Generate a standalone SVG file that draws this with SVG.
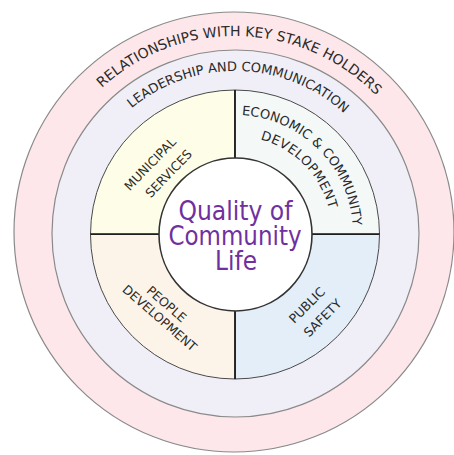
<svg xmlns="http://www.w3.org/2000/svg" width="454" height="455" viewBox="0 0 454 455">
  <defs>
    <style>
      .ring-edge { stroke: #8a8a8a; stroke-width: 1.2; }
      .quad { stroke: #4a4a4a; stroke-width: 1; }
      .label { font-family: "DejaVu Sans", "Liberation Sans", sans-serif; fill: #2a2a2a; }
      .ring-label { font-size: 14px; }
      .quad-label { font-size: 12.5px; }
      .arc-label { font-size: 13px; }
      .core-label { font-family: "DejaVu Sans", "Liberation Sans", sans-serif; font-size: 26px; fill: #7030a0; text-anchor: middle; }
      .divider { stroke: #111; stroke-width: 1.6; fill: none; }
    </style>
    <!-- baselines for the curved labels, all sharing the diagram centre -->
    <path id="arc-outer" d="M 38,233 A 197,197 0 0 1 432,233" fill="none"/>
    <path id="arc-middle" d="M 73,233 A 162,162 0 0 1 397,233" fill="none"/>
    <path id="arc-econ-1" d="M 241.8,115.2 A 118,118 0 0 1 353,233" fill="none"/>
    <path id="arc-econ-2" d="M 260.3,139.3 A 97,97 0 0 1 332,233" fill="none"/>
  </defs>

  <rect width="454" height="455" fill="#ffffff"/>

  <!-- outer ring -->
  <g id="stakeholders">
    <circle cx="234" cy="232" r="220" fill="#fde7ea" class="ring-edge"/>
    <text class="label ring-label"><textPath href="#arc-outer" startOffset="314.6" text-anchor="middle">RELATIONSHIPS WITH KEY STAKE HOLDERS</textPath></text>
  </g>

  <!-- middle ring -->
  <g id="leadership">
    <circle cx="235.5" cy="233.5" r="183.5" fill="#f0eff7" class="ring-edge"/>
    <text class="label arc-label"><textPath href="#arc-middle" startOffset="258.2" text-anchor="middle">LEADERSHIP AND COMMUNICATION</textPath></text>
  </g>

  <!-- four quadrants -->
  <g id="municipal-services">
    <path class="quad" fill="#fefde8" d="M 235,234.5 L 90.5,234.5 A 144.5,144.5 0 0 1 235,90 Z"/>
    <text class="label quad-label" text-anchor="middle" transform="translate(160,168) rotate(-46)">
      <tspan x="-2" y="-5.5">MUNICIPAL</tspan>
      <tspan x="2" y="14.5">SERVICES</tspan>
    </text>
  </g>

  <g id="economic-community-development">
    <path class="quad" fill="#f4f8f7" d="M 235,234.5 L 235,90 A 144.5,144.5 0 0 1 379.5,234.5 Z"/>
    <text class="label arc-label"><textPath href="#arc-econ-1">ECONOMIC &amp; COMMUNITY</textPath></text>
    <text class="label arc-label" letter-spacing="0.5"><textPath href="#arc-econ-2">DEVELOPMENT</textPath></text>
  </g>

  <g id="public-safety">
    <path class="quad" fill="#e3eef8" d="M 235,234.5 L 379.5,234.5 A 144.5,144.5 0 0 1 235,379 Z"/>
    <text class="label quad-label" text-anchor="middle" transform="translate(315.4,310.8) rotate(-45)">
      <tspan x="0" y="-5.5">PUBLIC</tspan>
      <tspan x="0" y="14.5">SAFETY</tspan>
    </text>
  </g>

  <g id="people-development">
    <path class="quad" fill="#fdf4e9" d="M 235,234.5 L 235,379 A 144.5,144.5 0 0 1 90.5,234.5 Z"/>
    <text class="label quad-label" text-anchor="middle" transform="translate(164.7,312.3) rotate(41)">
      <tspan x="-2" y="-3">PEOPLE</tspan>
      <tspan x="0" y="12">DEVELOPMENT</tspan>
    </text>
  </g>

  <!-- dividing lines between the quadrants -->
  <g id="dividers">
    <line class="divider" x1="235" y1="90" x2="235" y2="379"/>
    <line class="divider" x1="90.5" y1="234" x2="379.5" y2="234"/>
  </g>

  <!-- core -->
  <g id="quality-of-life">
    <circle cx="235.5" cy="234.5" r="76.5" fill="#ffffff" stroke="#333333" stroke-width="1.6"/>
    <text class="core-label" x="235.5" y="220" textLength="114" lengthAdjust="spacingAndGlyphs">Quality of</text>
    <text class="core-label" x="235" y="245" textLength="133" lengthAdjust="spacingAndGlyphs">Community</text>
    <text class="core-label" x="236" y="269.5" textLength="42" lengthAdjust="spacingAndGlyphs">Life</text>
  </g>
</svg>
